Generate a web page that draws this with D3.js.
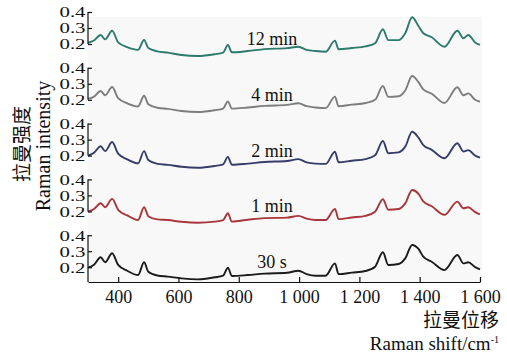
<!DOCTYPE html>
<html>
<head>
<meta charset="utf-8">
<script src="https://cdn.jsdelivr.net/npm/d3@7"></script>
<style>
  html, body { margin: 0; padding: 0; background: #ffffff; }
  svg { display: block; }
  .serif { font-family: "Liberation Serif", "Times New Roman", serif; fill: #111; }
  .cjk { font-family: "Noto Sans CJK SC", sans-serif; fill: #111; }
</style>
</head>
<body>
<svg id="chart" width="507" height="353"></svg>
<script>
// Raman shift positions (cm^-1) shared by all spectra
const shift = [300, 320, 342, 357, 380, 400, 430, 466, 486, 500, 530, 565, 610, 665, 720, 748, 764, 777,
  830, 885, 960, 998, 1025, 1055, 1088, 1119, 1131, 1175, 1220, 1252, 1278, 1296, 1330, 1352, 1375, 1396,
  1412, 1440, 1482, 1525, 1545, 1561, 1584, 1600];

// Raman intensity for each exposure time
const int12min = [0.208, 0.222, 0.256, 0.229, 0.283, 0.210, 0.180, 0.163, 0.225, 0.175, 0.154, 0.146, 0.131, 0.125, 0.136, 0.146, 0.194, 0.148,
  0.156, 0.168, 0.174, 0.183, 0.163, 0.156, 0.152, 0.221, 0.167, 0.175, 0.185, 0.205, 0.292, 0.224, 0.224, 0.267, 0.367, 0.312,
  0.267, 0.242, 0.183, 0.283, 0.236, 0.256, 0.210, 0.194];
const int4min = [0.205, 0.220, 0.255, 0.228, 0.280, 0.210, 0.178, 0.158, 0.225, 0.172, 0.150, 0.143, 0.130, 0.124, 0.135, 0.145, 0.190, 0.145,
  0.152, 0.162, 0.168, 0.178, 0.160, 0.152, 0.148, 0.220, 0.160, 0.170, 0.180, 0.200, 0.286, 0.218, 0.222, 0.258, 0.349, 0.310,
  0.265, 0.238, 0.180, 0.278, 0.228, 0.240, 0.200, 0.188];
const int2min = [0.200, 0.218, 0.258, 0.228, 0.285, 0.212, 0.177, 0.152, 0.228, 0.172, 0.148, 0.142, 0.130, 0.124, 0.135, 0.145, 0.192, 0.143,
  0.150, 0.160, 0.166, 0.178, 0.158, 0.150, 0.148, 0.224, 0.158, 0.168, 0.178, 0.202, 0.291, 0.215, 0.220, 0.256, 0.349, 0.312,
  0.266, 0.236, 0.183, 0.277, 0.226, 0.234, 0.200, 0.187];
const int1min = [0.198, 0.215, 0.251, 0.226, 0.278, 0.210, 0.175, 0.146, 0.226, 0.170, 0.150, 0.146, 0.135, 0.129, 0.136, 0.145, 0.188, 0.136,
  0.148, 0.158, 0.161, 0.172, 0.155, 0.146, 0.146, 0.215, 0.152, 0.162, 0.172, 0.198, 0.276, 0.210, 0.215, 0.250, 0.334, 0.310,
  0.262, 0.232, 0.178, 0.261, 0.220, 0.226, 0.195, 0.182];
const int30s = [0.197, 0.215, 0.262, 0.231, 0.287, 0.214, 0.178, 0.151, 0.231, 0.172, 0.148, 0.141, 0.130, 0.124, 0.137, 0.147, 0.197, 0.145,
  0.151, 0.160, 0.165, 0.178, 0.157, 0.147, 0.147, 0.224, 0.157, 0.166, 0.176, 0.203, 0.293, 0.214, 0.220, 0.255, 0.339, 0.314,
  0.266, 0.234, 0.182, 0.276, 0.224, 0.231, 0.200, 0.187];

const seriesLabels = ["12 min", "4 min", "2 min", "1 min", "30 s"];
const seriesValues = [int12min, int4min, int2min, int1min, int30s];
const seriesColors = ["#2b7a6c", "#7d7d7d", "#363d69", "#a8353a", "#1b1b1b"];

const xTicks = [400, 600, 800, 1000, 1200, 1400, 1600];
const xTickLabels = ["400", "600", "800", "1 000", "1 200", "1 400", "1 600"];
const yTicks = [0.2, 0.3, 0.4];
const yTickLabels = ["0.2", "0.3", "0.4"];

const svg = d3.select("#chart");

const x = d3.scaleLinear().domain([300, 1600]).range([88, 480]);
const panelTop0 = 12, panelStep = 55.8, panelH = 46.8;
const yMin = 0.1075, yMax = 0.4;
const axisY = panelTop0 + 4 * panelStep + panelH;

// plot background
svg.append("rect")
  .attr("x", 88).attr("y", 17)
  .attr("width", 394).attr("height", axisY - 17)
  .attr("fill", "#f8f8f8");

seriesValues.forEach((vals, i) => {
  const top = panelTop0 + i * panelStep;
  const y = d3.scaleLinear().domain([yMin, yMax]).range([top + panelH, top]);
  const last = i === seriesValues.length - 1;

  // spectrum trace
  const line = d3.line()
    .x((d, j) => x(shift[j]))
    .y(d => y(d))
    .curve(d3.curveMonotoneX);
  svg.append("path")
    .datum(vals)
    .attr("d", line)
    .attr("fill", "none")
    .attr("stroke", seriesColors[i])
    .attr("stroke-width", 1.9)
    .attr("stroke-linejoin", "round");

  // left axis bracket with inward ticks
  const ax = svg.append("g")
    .attr("transform", `translate(${x.range()[0]},0)`)
    .call(d3.axisLeft(y).tickValues(yTicks)
      .tickFormat((d, k) => yTickLabels[k])
      .tickSizeInner(-4).tickSizeOuter(0).tickPadding(2.5));
  ax.select(".domain").remove();
  ax.selectAll(".tick line").attr("stroke", "#111").attr("stroke-width", 1.2);
  ax.selectAll(".tick text")
    .attr("class", "serif")
    .style("font-size", "15px")
    .attr("textLength", 26)
    .attr("lengthAdjust", "spacingAndGlyphs");
  ax.append("line")
    .attr("x1", 0).attr("x2", 0)
    .attr("y1", y(0.4))
    .attr("y2", last ? axisY : y(0.2))
    .attr("stroke", "#111").attr("stroke-width", 1.2);

  // exposure time label
  svg.append("text")
    .attr("class", "serif")
    .attr("x", 272).attr("y", top + 33)
    .attr("text-anchor", "middle")
    .style("font-size", "18px")
    .text(seriesLabels[i]);
});

// bottom axis with upward ticks
const xa = svg.append("g")
  .attr("transform", `translate(0,${axisY})`)
  .call(d3.axisBottom(x).tickValues(xTicks)
    .tickFormat((d, k) => xTickLabels[k])
    .tickSizeInner(-5).tickSizeOuter(0).tickPadding(8));
xa.select(".domain").attr("stroke", "#111").attr("stroke-width", 1.2);
xa.selectAll(".tick line").attr("stroke", "#111").attr("stroke-width", 1.2);
xa.selectAll(".tick text")
  .attr("class", "serif")
  .style("font-size", "18px");

// axis titles
svg.append("text")
  .attr("class", "cjk")
  .attr("x", 499).attr("y", 327)
  .attr("text-anchor", "end")
  .style("font-size", "19px")
  .text("拉曼位移");

const xt = svg.append("text")
  .attr("class", "serif")
  .attr("x", 499).attr("y", 350)
  .attr("text-anchor", "end")
  .style("font-size", "19px");
xt.append("tspan").text("Raman shift/cm");
xt.append("tspan").attr("dy", -7).style("font-size", "10px").text("-1");

svg.append("text")
  .attr("class", "cjk")
  .attr("transform", "translate(29,144) rotate(-90)")
  .attr("text-anchor", "middle")
  .style("font-size", "19px")
  .text("拉曼强度");

svg.append("text")
  .attr("class", "serif")
  .attr("transform", "translate(50,146) rotate(-90)")
  .attr("text-anchor", "middle")
  .style("font-size", "20px")
  .text("Raman intensity");
</script>
</body>
</html>
